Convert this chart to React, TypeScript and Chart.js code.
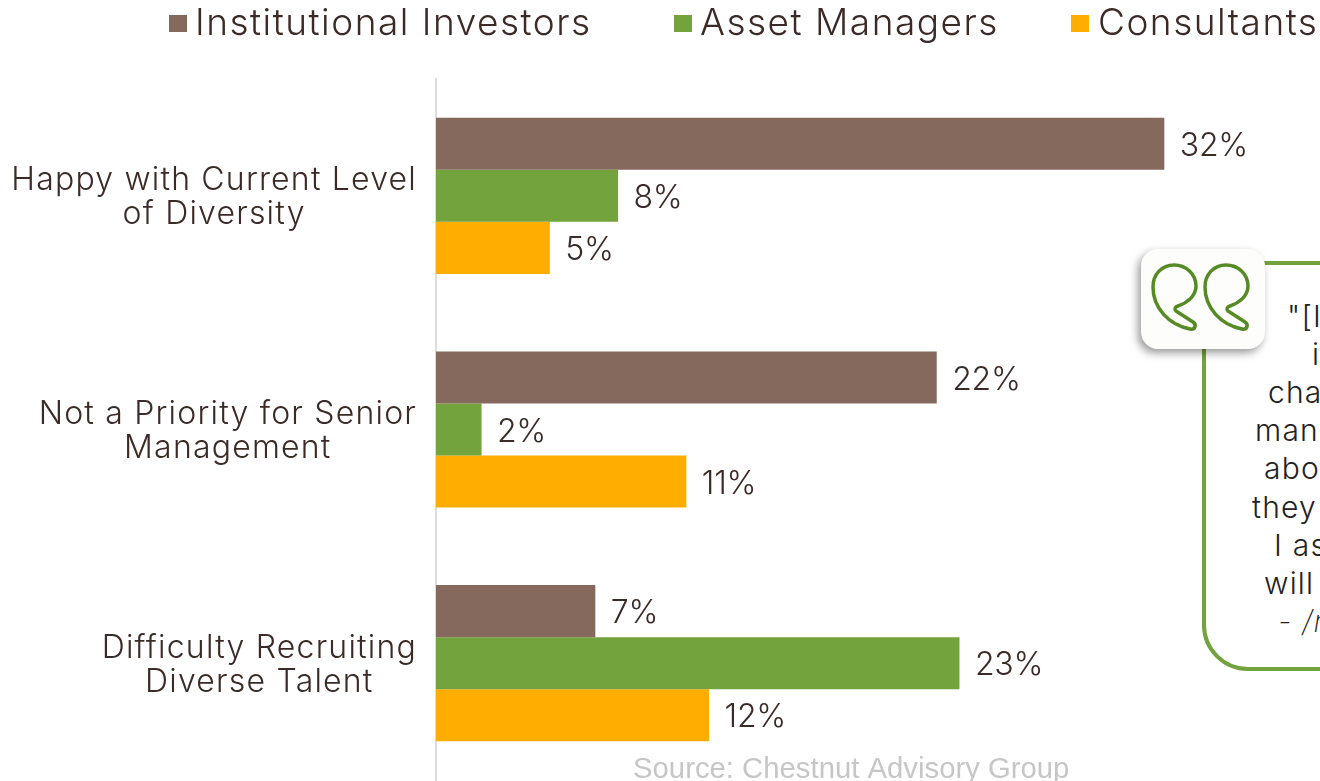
import React, { useEffect, useRef } from "react";
import { Chart, registerables } from "chart.js";

Chart.register(...registerables);

const categories = [
  ["Happy with Current Level", "of Diversity"],
  ["Not a Priority for Senior", "Management"],
  ["Difficulty Recruiting", "Diverse Talent"],
];
const institutionalInvestors = [32, 22, 7];
const assetManagers = [8, 2, 23];
const consultants = [5, 11, 12];
const seriesNames = ["Institutional Investors", "Asset Managers", "Consultants"];
const seriesColors = ["#85695C", "#72A33C", "#FFAD00"];
const legendBoxX = [169, 674, 1071];
const legendTextX = [195, 700, 1098];
const sourceNote = "Source: Chestnut Advisory Group";
const quoteLines = [
  { text: '"[I', x: 1287, y: 316 },
  { text: "i", x: 1312, y: 354 },
  { text: "cha", x: 1268, y: 392 },
  { text: "man", x: 1255, y: 430 },
  { text: "abo", x: 1264, y: 468 },
  { text: "they", x: 1252, y: 507 },
  { text: "I as", x: 1274, y: 545 },
  { text: "will", x: 1264, y: 583 },
];
const quoteAttribution = { text: "- /r", x: 1278, y: 621 };

const INK = "#3B2A25";
const FONT = "Inter";

const overlayPlugin = {
  id: "overlay",
  afterDatasetsDraw(chart: any) {
    const ctx = chart.ctx;
    ctx.save();
    ctx.font = `300 32px ${FONT}`;
    ctx.letterSpacing = "-0.3px";
    ctx.fillStyle = INK;
    ctx.textAlign = "left";
    ctx.textBaseline = "middle";
    chart.data.datasets.forEach((ds: any, i: number) => {
      chart.getDatasetMeta(i).data.forEach((bar: any, j: number) => {
        ctx.fillText(`${ds.data[j]}%`, bar.x + 15.5, bar.y + 2.5);
      });
    });
    // category labels: right-aligned block, lines centred inside it
    const yScale = chart.scales.y;
    const lineGap = 34;
    ctx.font = `300 32px ${FONT}`;
    ctx.letterSpacing = "1.2px";
    ctx.textAlign = "center";
    chart.data.labels.forEach((lines: string[], k: number) => {
      const widest = Math.max(...lines.map((l) => ctx.measureText(l).width));
      const cx = 417 - widest / 2;
      const cy = yScale.getPixelForTick(k) + 2;
      lines.forEach((l, n) => {
        ctx.fillText(l, cx, cy + (n - (lines.length - 1) / 2) * lineGap);
      });
    });
    // legend
    ctx.textAlign = "left";
    ctx.font = `300 37px ${FONT}`;
    ctx.letterSpacing = "1.5px";
    chart.data.datasets.forEach((ds: any, i: number) => {
      ctx.fillStyle = ds.backgroundColor;
      ctx.fillRect(legendBoxX[i], 15, 18, 17);
      ctx.fillStyle = INK;
      ctx.fillText(ds.label, legendTextX[i], 24);
    });
    // source
    ctx.letterSpacing = "0px";
    ctx.font = '29.3px "Liberation Sans"';
    ctx.fillStyle = "#C6C6C6";
    ctx.textBaseline = "alphabetic";
    ctx.fillText(sourceNote, 633, 778);
    ctx.restore();
  },
};

export default function App() {
  const ref = useRef<HTMLCanvasElement>(null);
  useEffect(() => {
    document.body.style.margin = "0";
    document.body.style.overflow = "hidden";
    const chart = new Chart(ref.current!, {
      type: "bar",
      data: {
        labels: categories,
        datasets: [institutionalInvestors, assetManagers, consultants].map((d, i) => ({
          label: seriesNames[i],
          data: d,
          backgroundColor: seriesColors[i],
          categoryPercentage: 0.668,
          barPercentage: 1,
        })),
      },
      options: {
        indexAxis: "y",
        animation: false,
        responsive: false,
        layout: { autoPadding: false, padding: { top: 79, bottom: 1, left: 0, right: 0 } },
        plugins: { legend: { display: false }, tooltip: { enabled: false }, title: { display: false } },
        scales: {
          x: { display: false, min: 0, max: 38.84 },
          y: {
            afterFit(s: any) {
              s.width = 436;
              s.paddingTop = 0;
              s.paddingBottom = 0;
            },
            grid: { display: false, drawTicks: false },
            border: { display: true, color: "#DDDDDD", width: 2 },
            ticks: { display: false, autoSkip: false },
          },
        },
      } as any,
      plugins: [overlayPlugin],
    });
    return () => chart.destroy();
  }, []);

  const textStyle: React.CSSProperties = {
    position: "absolute",
    lineHeight: "40px",
    whiteSpace: "nowrap",
    fontFamily: FONT,
    fontWeight: 300,
    fontSize: 30,
    letterSpacing: 1.2,
    color: "#222",
  };

  return (
    <div style={{ position: "relative", width: 1320, height: 781, overflow: "hidden", background: "#fff" }}>
      <canvas ref={ref} width={1320} height={781} style={{ display: "block" }} />
      <div
        style={{
          position: "absolute",
          left: 1201.5,
          top: 261,
          width: 400,
          height: 410,
          boxSizing: "border-box",
          border: "4px solid #72A33C",
          borderRadius: 46,
          background: "#fff",
        }}
      />
      {quoteLines.map((l) => (
        <div key={l.y} style={{ ...textStyle, left: l.x, top: l.y - 20 }}>
          {l.text}
        </div>
      ))}
      <div style={{ ...textStyle, left: quoteAttribution.x, top: quoteAttribution.y - 20, fontStyle: "italic", fontWeight: 200 }}>
        {quoteAttribution.text}
      </div>
      <div
        style={{
          position: "absolute",
          left: 1141,
          top: 249,
          width: 124,
          height: 100,
          borderRadius: 17,
          background: "#FDFDFB",
          boxShadow: "-3px 4px 8px rgba(0,0,0,0.4)",
        }}
      >
        <svg width="124" height="100" style={{ display: "block" }}>
          {[0, 52].map((dx) => (
            <path
              key={dx}
              transform={`translate(${dx} 0)`}
              d="M33 16 C45 16 55 25 55 37 C55 47 46 54 37 57 C34 58 33 60 35 62 L52 73 C56 76 54 81 49 80 C28 76 12 59 12 38 C12 25 21 16 33 16 Z"
              fill="none"
              stroke="#568A24"
              strokeWidth="3.5"
              strokeLinejoin="round"
            />
          ))}
        </svg>
      </div>
    </div>
  );
}
